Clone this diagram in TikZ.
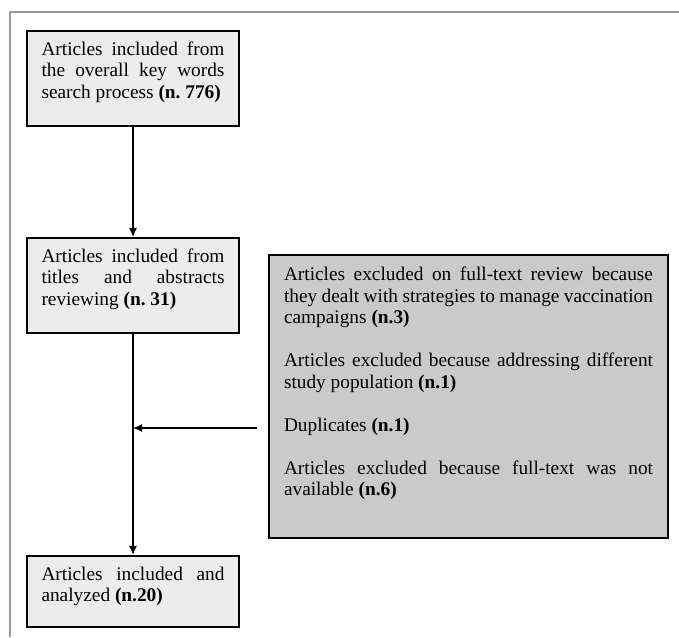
\documentclass[tikz,border=0pt]{standalone}
\usepackage{fontspec}
\setmainfont{Liberation Serif}
\usepackage{xcolor}
\usetikzlibrary{arrows.meta}
\definecolor{paper}{RGB}{236,236,236}
\definecolor{shade}{RGB}{202,202,202}
\definecolor{frame}{RGB}{153,153,153}
\newcommand{\padbelow}[1]{\rule[-#1]{0pt}{#1}}

\tikzset{
  flowbox/.style={draw, line width=1pt, fill=paper, anchor=north,
    text width=3.66cm, inner xsep=0.29cm, inner ysep=0.22cm, align=justify,
    font=\fontsize{11}{12.24}\selectfont},
  exclbox/.style={flowbox, fill=shade, line width=1.2pt, text width=7.38cm, inner xsep=0.3cm},
  flow/.style={-{Latex[length=0.18cm,width=0.16cm]}, line width=0.8pt}
}

\begin{document}
\begin{tikzpicture}
\useasboundingbox (0,0) rectangle (13.58,12.74);

% Frame
\draw[frame, line width=1.5pt] (0.2,0) -- (0.2,12.5) -- (13.58,12.5);

% Included articles
\node[flowbox, minimum height=1.9cm] (search) at (2.66,12.14)
  {Articles included from\linebreak the overall key words\linebreak search process \textbf{(n.~776)}\padbelow{0.33cm}};
\node[flowbox, minimum height=1.88cm] (screen) at (2.66,8.0)
  {Articles included from\linebreak titles and abstracts\linebreak reviewing \textbf{(n.~31)}\padbelow{0.33cm}};
\node[flowbox, minimum height=1.4cm] (final) at (2.66,1.64)
  {Articles included and\linebreak analyzed \textbf{(n.20)}\padbelow{0.28cm}};

% Excluded articles
\node[exclbox, minimum height=5.66cm] (excl) at (9.37,7.66)
  {Articles excluded on full-text review because\linebreak they dealt with strategies to manage vaccination\linebreak campaigns \textbf{(n.3)}\par\vspace{\baselineskip}
   Articles excluded because addressing different\linebreak study population \textbf{(n.1)}\par\vspace{\baselineskip}
   Duplicates \textbf{(n.1)}\par\vspace{\baselineskip}
   Articles excluded because full-text was not\linebreak available \textbf{(n.6)}\padbelow{0.6cm}};

% Arrows
\coordinate (join) at (2.66,4.18);
\draw[flow] (search) -- (screen);
\draw[flow] (screen) -- (final);
\draw[flow, shorten <=0.22cm] (excl.west |- join) -- (join);
\end{tikzpicture}
\end{document}
